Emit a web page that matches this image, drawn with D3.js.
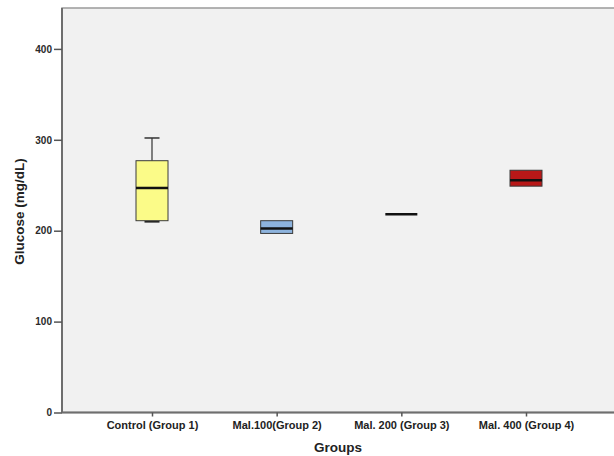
<!DOCTYPE html>
<html>
<head>
<meta charset="utf-8">
<script src="https://cdn.jsdelivr.net/npm/d3@7"></script>
<style>
  body { margin: 0; background: #fff; }
  svg { display: block; font-family: Arial, "Liberation Sans", sans-serif; }
</style>
</head>
<body>
<svg id="chart" width="614" height="456"></svg>
<script>
// Box plot stats (mg/dL)
const groups = ["Control (Group 1)", "Mal.100(Group 2)", "Mal. 200 (Group 3)", "Mal. 400 (Group 4)"];
const lowWhisker = [210, 197, 218, 249];
const q1 = [211, 197, 218, 249];
const median = [247, 202.5, 218, 255.5];
const q3 = [277, 211, 218, 266.5];
const highWhisker = [302, 211, 218, 266.5];
const boxColors = ["#fbfb88", "#8db3dd", "#c2c2c2", "#b81818"];
const yTicks = [0, 100, 200, 300, 400];

const svg = d3.select("#chart");

const plot = { left: 62, top: 8, right: 640, bottom: 412.5 };

const y = d3.scaleLinear().domain([0, 445]).range([plot.bottom, plot.top]);
const x = d3.scalePoint().domain(groups).range([152, 526]);

const boxW = 32, capW = 15;

// plot background
svg.append("rect")
  .attr("x", plot.left).attr("y", plot.top)
  .attr("width", plot.right - plot.left).attr("height", plot.bottom - plot.top)
  .attr("fill", "#f1f1f1")
  .attr("stroke", "#9a9a9a").attr("stroke-width", 1.5);

// boxes
const stats = groups.map((g, i) => ({
  g, lo: lowWhisker[i], q1: q1[i], med: median[i], q3: q3[i], hi: highWhisker[i], color: boxColors[i]
}));

const box = svg.append("g").selectAll("g")
  .data(stats)
  .join("g")
  .attr("transform", d => `translate(${x(d.g)},0)`);

// whiskers (only where they stick out of the box)
box.filter(d => d.hi > d.q3).append("line")
  .attr("y1", d => y(d.q3)).attr("y2", d => y(d.hi))
  .attr("stroke", "#333").attr("stroke-width", 1.2);
box.filter(d => d.hi > d.q3).append("line")
  .attr("x1", -capW / 2).attr("x2", capW / 2)
  .attr("y1", d => y(d.hi)).attr("y2", d => y(d.hi))
  .attr("stroke", "#333").attr("stroke-width", 1.5);
box.filter(d => d.lo < d.q1).append("line")
  .attr("y1", d => y(d.q1)).attr("y2", d => y(d.lo))
  .attr("stroke", "#333").attr("stroke-width", 1.2);
box.filter(d => d.lo < d.q1).append("line")
  .attr("x1", -capW / 2).attr("x2", capW / 2)
  .attr("y1", d => y(d.lo)).attr("y2", d => y(d.lo))
  .attr("stroke", "#222").attr("stroke-width", 2);

box.filter(d => d.q3 > d.q1).append("rect")
  .attr("x", -boxW / 2).attr("width", boxW)
  .attr("y", d => y(d.q3)).attr("height", d => y(d.q1) - y(d.q3))
  .attr("fill", d => d.color)
  .attr("stroke", "#3a3a3a").attr("stroke-width", 1);

// median
box.append("line")
  .attr("x1", -boxW / 2).attr("x2", boxW / 2)
  .attr("y1", d => y(d.med)).attr("y2", d => y(d.med))
  .attr("stroke", "#111").attr("stroke-width", 2.5);

// y axis
const yAxis = svg.append("g")
  .attr("transform", `translate(${plot.left},0)`)
  .call(d3.axisLeft(y).tickValues(yTicks).tickSize(8).tickPadding(2));
yAxis.select(".domain").attr("stroke", "#6e6e6e").attr("stroke-width", 2)
  .attr("d", `M0,${plot.top}V${plot.bottom}`);
yAxis.selectAll(".tick line").attr("stroke", "#555").attr("stroke-width", 1.5);
yAxis.selectAll(".tick text")
  .attr("fill", "#2a2a2a").attr("font-size", "10px").attr("font-weight", "bold");

// x axis
const xAxis = svg.append("g")
  .attr("transform", `translate(0,${plot.bottom})`)
  .call(d3.axisBottom(x).tickSize(4).tickPadding(5));
xAxis.select(".domain").attr("stroke", "#6e6e6e").attr("stroke-width", 2)
  .attr("d", `M${plot.left},0H${plot.right}`);
xAxis.selectAll(".tick line").attr("stroke", "#555").attr("stroke-width", 1.5);
xAxis.selectAll(".tick text")
  .attr("fill", "#222").attr("font-size", "11px").attr("font-weight", "bold");

// axis titles
svg.append("text")
  .attr("x", 338).attr("y", 452)
  .attr("text-anchor", "middle")
  .attr("font-size", "13.5px").attr("font-weight", "bold").attr("fill", "#222")
  .text("Groups");

svg.append("text")
  .attr("transform", "translate(24,211.5) rotate(-90)")
  .attr("text-anchor", "middle")
  .attr("font-size", "13.5px").attr("font-weight", "bold").attr("fill", "#222")
  .text("Glucose (mg/dL)");
</script>
</body>
</html>
